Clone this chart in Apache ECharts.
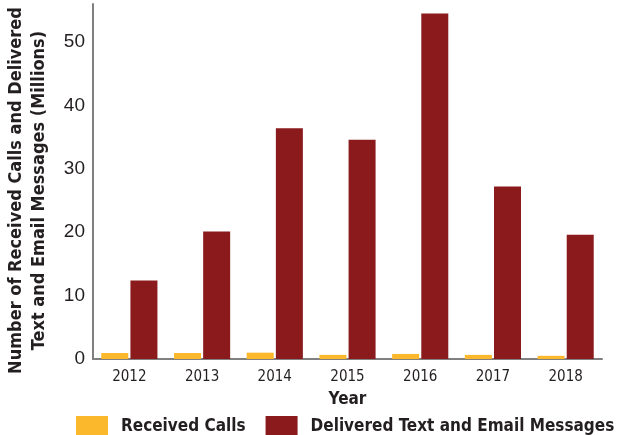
<!DOCTYPE html>
<html>
<head>
<meta charset="utf-8">
<script src="https://cdn.jsdelivr.net/npm/echarts@6/dist/echarts.min.js"></script>
<style>
  html, body { margin: 0; padding: 0; background: #fff; }
  #chart { width: 619px; height: 435px; }
</style>
</head>
<body>
<div id="chart"></div>
<script>
const years = ['2012', '2013', '2014', '2015', '2016', '2017', '2018'];
const receivedCalls = [0.95, 0.95, 1.0, 0.65, 0.8, 0.65, 0.5];
const deliveredMessages = [12.4, 20.1, 36.4, 34.6, 54.5, 27.2, 19.6];
const yTicks = [0, 10, 20, 30, 40, 50];

const narrow = '"DejaVu Sans Condensed", "Liberation Sans Narrow", sans-serif';
const textColor = '#231f20';

const chart = echarts.init(document.getElementById('chart'));

chart.setOption({
  animation: false,
  grid: {
    left: 93,
    right: 17,
    top: 4,
    bottom: 76,
    containLabel: false,
    outerBoundsMode: 'none',
  },
  legend: {
    top: 411,
    left: 71,
    width: 580,
    itemWidth: 32,
    itemHeight: 21,
    itemGap: 20,
    icon: 'rect',
    textStyle: {
      fontFamily: narrow,
      fontWeight: 'bold',
      fontSize: 17,
      color: textColor,
      padding: [0, 0, 0, 8],
    },
    data: ['Received Calls', 'Delivered Text and Email Messages'],
  },
  xAxis: {
    type: 'category',
    data: years,
    name: 'Year',
    nameLocation: 'middle',
    nameGap: 32,
    nameTextStyle: {
      fontFamily: narrow,
      fontWeight: 'bold',
      fontSize: 17,
      color: textColor,
    },
    axisLine: { lineStyle: { color: '#808080', width: 2 } },
    axisTick: { show: false },
    axisLabel: {
      fontFamily: narrow,
      fontSize: 15,
      color: textColor,
      margin: 11,
    },
  },
  yAxis: {
    type: 'value',
    min: 0,
    max: 56,
    interval: 10,
    name: 'Number of Received Calls and Delivered\nText and Email Messages (Millions)',
    nameLocation: 'middle',
    nameRotate: 90,
    nameGap: 42,
    nameTextStyle: {
      fontFamily: narrow,
      fontWeight: 'bold',
      fontSize: 18,
      lineHeight: 23,
      color: textColor,
      padding: [0, 18, 0, 0],
    },
    axisLine: { show: true, lineStyle: { color: '#808080', width: 2 } },
    axisTick: { show: false },
    splitLine: { show: false },
    axisLabel: {
      showMaxLabel: false,
      fontFamily: '"Liberation Sans", sans-serif',
      fontSize: 19,
      color: textColor,
      margin: 8,
      formatter: v => (yTicks.includes(v) ? String(v) : ''),
    },
  },
  series: [
    {
      name: 'Received Calls',
      type: 'bar',
      barWidth: 27,
      barGap: '8%',
      itemStyle: { color: '#fbb82d' },
      data: receivedCalls,
    },
    {
      name: 'Delivered Text and Email Messages',
      type: 'bar',
      barWidth: 27,
      itemStyle: { color: '#8a1a1c' },
      data: deliveredMessages,
    },
  ],
});
</script>
</body>
</html>
